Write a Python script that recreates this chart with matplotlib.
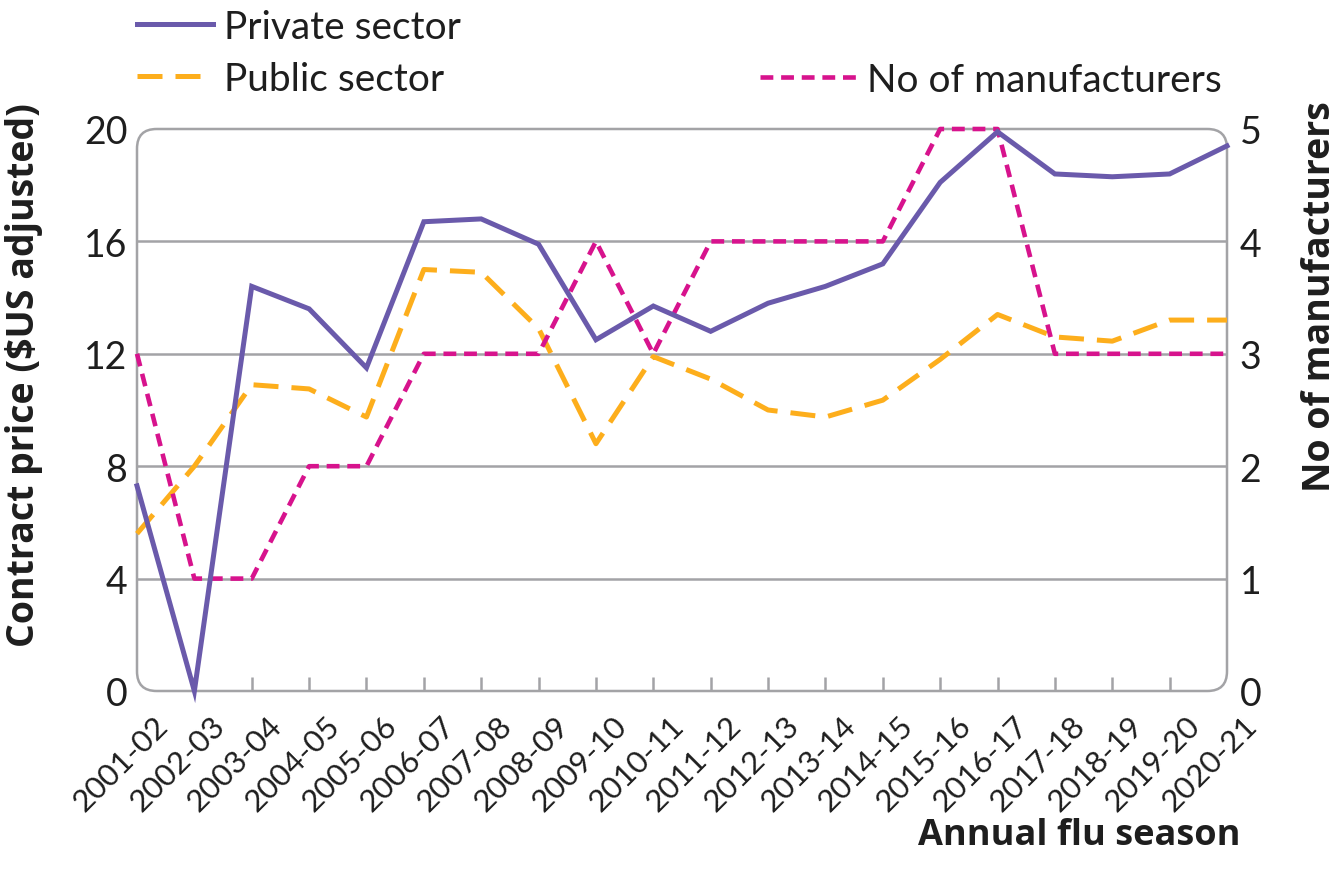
import matplotlib
matplotlib.use("Agg")
import matplotlib.pyplot as plt
import matplotlib.transforms as mtransforms
from matplotlib.patches import FancyBboxPatch

seasons = ["2001-02", "2002-03", "2003-04", "2004-05", "2005-06", "2006-07",
           "2007-08", "2008-09", "2009-10", "2010-11", "2011-12", "2012-13",
           "2013-14", "2014-15", "2015-16", "2016-17", "2017-18", "2018-19",
           "2019-20", "2020-21"]
private = [7.3, 0.0, 14.4, 13.6, 11.5, 16.7, 16.8, 15.9, 12.5, 13.7,
           12.8, 13.8, 14.4, 15.2, 18.1, 19.9, 18.4, 18.3, 18.4, 19.4]
public = [5.6, 8.0, 10.9, 10.75, 9.75, 15.0, 14.9, 12.9, 8.8, 11.9,
          11.1, 10.0, 9.75, 10.35, 11.8, 13.4, 12.6, 12.45, 13.2, 13.2]
manufacturers = [3, 1, 1, 2, 2, 3, 3, 3, 4, 3, 4, 4, 4, 4, 5, 5, 3, 3, 3, 3]

price_ticks = [0, 4, 8, 12, 16, 20]
count_ticks = [0, 1, 2, 3, 4, 5]

PURPLE = "#6a5aab"
ORANGE = "#fdae1c"
MAGENTA = "#d7138d"
GREY = "#a3a3a6"
TEXT = "#1e1e1e"
BOLD_FONT = ["Open Sans", "DejaVu Sans"]

plt.rcParams["font.family"] = ["Lato", "DejaVu Sans"]

fig = plt.figure(figsize=(13.38, 8.79), dpi=100)
left, right, top, bottom = 137, 1227, 130, 692
ax = fig.add_axes([left / 1338, 1 - bottom / 879, (right - left) / 1338, (bottom - top) / 879])
ax2 = ax.twinx()

x = list(range(len(seasons)))

ax.set_xlim(0, len(seasons) - 1)
ax.set_ylim(0, 20)
ax2.set_ylim(0, 5)

for a in (ax, ax2):
    for s in a.spines.values():
        s.set_visible(False)

# rounded frame
frame = FancyBboxPatch((0, 0), 1, 1, boxstyle="round,pad=0,rounding_size=0.018",
                       mutation_aspect=(right - left) / (bottom - top),
                       transform=ax.transAxes, facecolor="none", edgecolor=GREY,
                       linewidth=1.8, clip_on=False, zorder=1)
ax.add_patch(frame)

# gridlines
ax.hlines(price_ticks[1:-1], 0, len(seasons) - 1, color=GREY, lw=1.8, zorder=1)

ln_priv, = ax2.plot(x, [v / 4 for v in private], color=PURPLE, lw=3.6,
                    solid_joinstyle="miter", clip_on=False, zorder=5)
ln_pub, = ax2.plot(x, [v / 4 for v in public], color=ORANGE, lw=3.6,
                   dashes=(5, 2.6), clip_on=False, zorder=3)
ln_man, = ax2.plot(x, manufacturers, color=MAGENTA, lw=3.3,
                   dashes=(2.8, 1.7), clip_on=False, zorder=4)

ax.set_yticks(price_ticks)
ax.set_yticklabels([str(t) for t in price_ticks])
ax2.set_yticks(count_ticks)
ax.tick_params(axis="y", length=0, pad=7, labelsize=27, labelcolor=TEXT)
ax2.tick_params(axis="y", length=0, pad=9, labelsize=27, labelcolor=TEXT)

ax.set_xticks(x)
ax.set_xticklabels(seasons)
ax.tick_params(axis="x", direction="in", length=10, width=1.8, color=GREY,
               pad=14, labelsize=22.5, labelcolor=TEXT)
xticks = ax.xaxis.get_major_ticks()
xticks[0].tick1line.set_visible(False)
xticks[-1].tick1line.set_visible(False)
offset = mtransforms.ScaledTranslation(16 / 100, 0, fig.dpi_scale_trans)
for lab in ax.get_xticklabels():
    lab.set_rotation(45)
    lab.set_ha("right")
    lab.set_va("top")
    lab.set_rotation_mode("anchor")
    lab.set_transform(lab.get_transform() + offset)

ax.set_ylabel("Contract price ($US adjusted)", fontsize=27, fontweight="bold",
              color=TEXT, family=BOLD_FONT)
ax2.set_ylabel("No of manufacturers", fontsize=27, fontweight="bold",
               color=TEXT, family=BOLD_FONT)
ax.yaxis.set_label_coords(-0.086, 0.564)
ax2.yaxis.set_label_coords(1.068, 0.703)

fig.text(1240 / 1338, 1 - 836 / 879, "Annual flu season", fontsize=26,
         fontweight="bold", color=TEXT, ha="right", va="center", family=BOLD_FONT)

leg1 = fig.legend([ln_priv, ln_pub], ["Private sector", "Public sector"],
                  loc="upper left", bbox_to_anchor=(137 / 1338, 1 - 10 / 879),
                  frameon=False, fontsize=28, handlelength=1.95,
                  handletextpad=0.3, labelspacing=0.41, labelcolor=TEXT,
                  borderaxespad=0, borderpad=0)
leg2 = fig.legend([ln_man], ["No of manufacturers"],
                  loc="upper right", bbox_to_anchor=(1222 / 1338, 1 - 63 / 879),
                  frameon=False, fontsize=28, handlelength=2.5,
                  handletextpad=0.25, labelcolor=TEXT, borderaxespad=0,
                  borderpad=0)

fig.savefig("out.png", dpi=100)
